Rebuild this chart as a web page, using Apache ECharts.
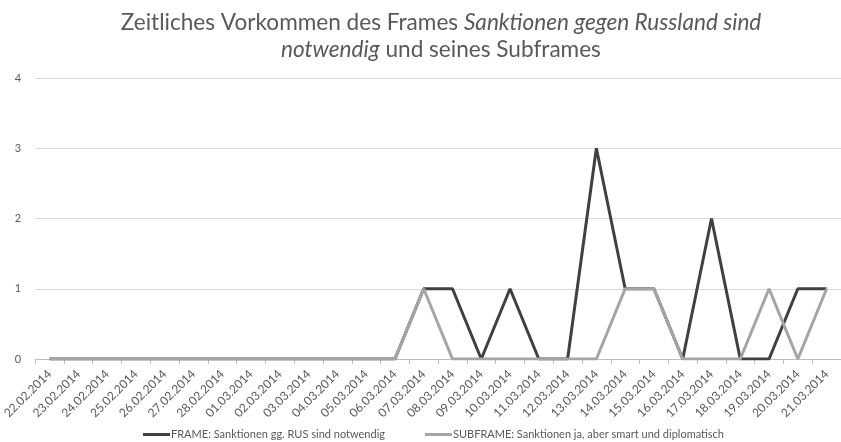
<!DOCTYPE html>
<html><head><meta charset="utf-8">
<script src="https://cdn.jsdelivr.net/npm/echarts@6/dist/echarts.min.js"></script>
<style>html,body{margin:0;padding:0;background:#fff}#c{width:841px;height:442px}</style>
</head><body><div id="c"></div>
<script>
const categories = ['22.02.2014','23.02.2014','24.02.2014','25.02.2014','26.02.2014','27.02.2014','28.02.2014','01.03.2014','02.03.2014','03.03.2014','04.03.2014','05.03.2014','06.03.2014','07.03.2014','08.03.2014','09.03.2014','10.03.2014','11.03.2014','12.03.2014','13.03.2014','14.03.2014','15.03.2014','16.03.2014','17.03.2014','18.03.2014','19.03.2014','20.03.2014','21.03.2014'];
const frameValues = [0,0,0,0,0,0,0,0,0,0,0,0,0,1,1,0,1,0,0,3,1,1,0,2,0,0,1,1];
const subframeValues = [0,0,0,0,0,0,0,0,0,0,0,0,0,1,0,0,0,0,0,0,1,1,0,0,0,1,0,1];
const frameName = 'FRAME: Sanktionen gg. RUS sind notwendig';
const subframeName = 'SUBFRAME: Sanktionen ja, aber smart und diplomatisch';
const yTicks = [0,1,2,3,4];

const chart = echarts.init(document.getElementById('c'), null, {renderer:'canvas'});
chart.setOption({
  animation:false,
  backgroundColor:'#fff',
  title:{
    text:'Zeitliches Vorkommen des Frames {i|Sanktionen gegen Russland sind}\n{i|notwendig} und seines Subframes',
    left:436, top:4, textAlign:'center',
    textStyle:{fontFamily:'Lato', fontSize:22.6, fontWeight:'normal', color:'#595959', lineHeight:27,
      rich:{i:{fontFamily:'Lato', fontSize:22.6, fontStyle:'italic', color:'#595959', lineHeight:27}}}
  },
  legend:{
    top:424, left:138, itemGap:40, itemWidth:27, itemHeight:3, icon:'rect',
    textStyle:{fontFamily:'Lato', fontSize:11, color:'#595959', padding:[0,0,0,-4]},
    data:[frameName, subframeName]
  },
  grid:{left:31, top:78, width:815, height:281, containLabel:false},
  xAxis:{
    type:'category', data:categories, boundaryGap:true,
    axisLine:{lineStyle:{color:'#bfbfbf', width:1}},
    axisTick:{show:true, length:5, lineStyle:{color:'#bfbfbf'}},
    axisLabel:{rotate:45, interval:0, fontFamily:'Lato', fontSize:12, color:'#595959', margin:13}
  },
  yAxis:{
    type:'value', min:yTicks[0], max:yTicks[yTicks.length-1], interval:1,
    axisLine:{show:false}, axisTick:{show:false},
    splitLine:{lineStyle:{color:'#d9d9d9', width:1}},
    axisLabel:{fontFamily:'Lato', fontSize:11, color:'#595959', margin:14}
  },
  series:[
    {name:frameName, type:'line', data:frameValues, symbol:'none', lineStyle:{color:'#404040', width:3}, itemStyle:{color:'#404040'}},
    {name:subframeName, type:'line', data:subframeValues, symbol:'none', lineStyle:{color:'#a5a5a5', width:3}, itemStyle:{color:'#a5a5a5'}}
  ]
});
</script></body></html>
